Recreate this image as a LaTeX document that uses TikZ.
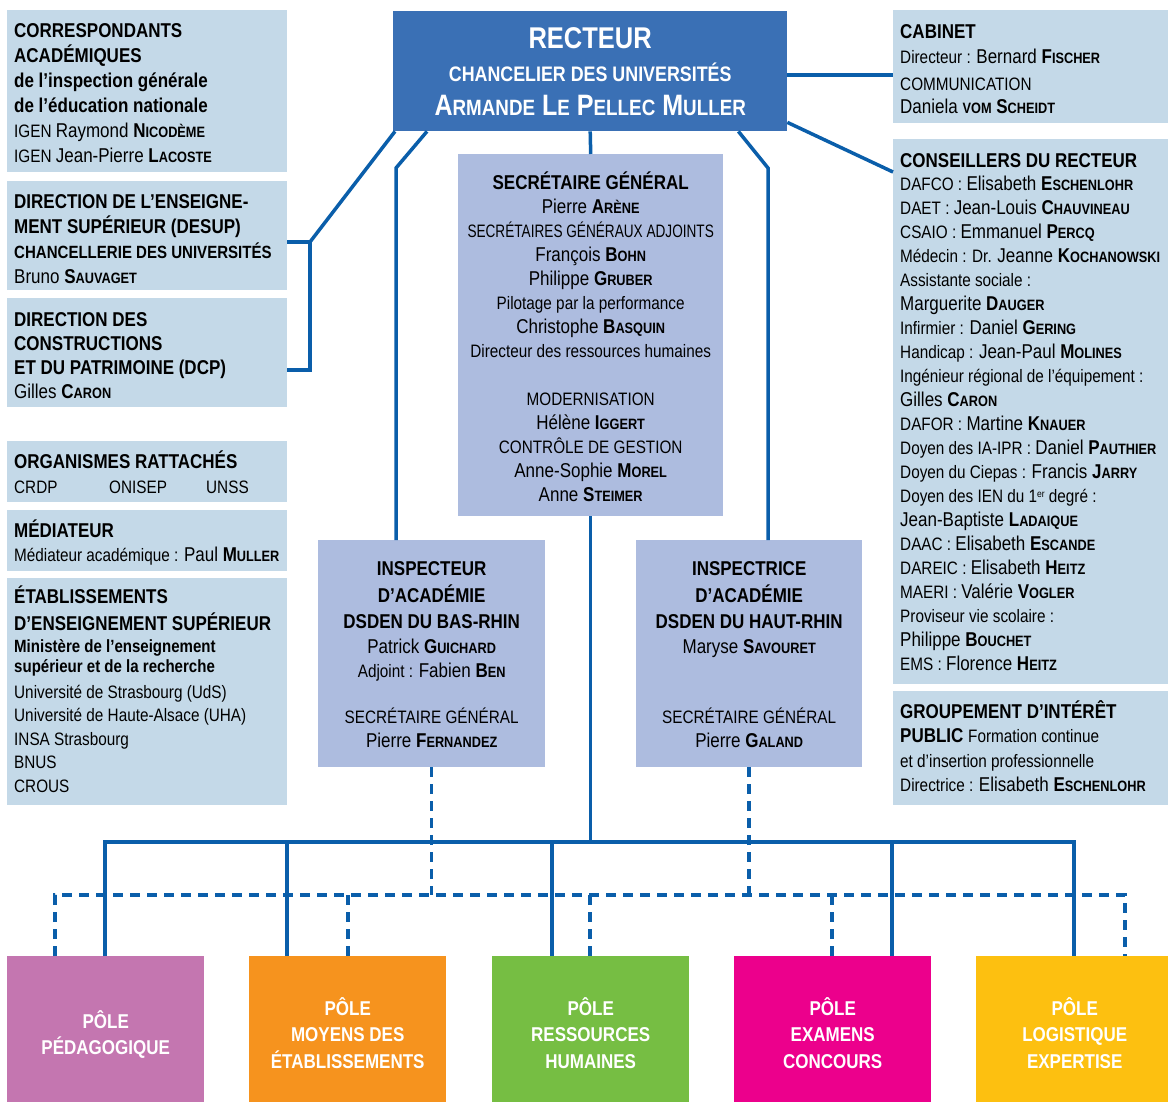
\documentclass[tikz,border=0pt]{standalone}
\usepackage{fontspec}
\setmainfont{Liberation Sans}[FakeStretch=0.85]
\usepackage{graphicx}
\definecolor{paleblue}{RGB}{196,217,232}
\definecolor{lavender}{RGB}{173,188,223}
\definecolor{recblue}{RGB}{58,112,181}
\definecolor{linkblue}{RGB}{10,94,170}
\definecolor{polemauve}{RGB}{196,118,176}
\definecolor{poleorange}{RGB}{246,147,30}
\definecolor{polegreen}{RGB}{118,190,67}
\definecolor{polepink}{RGB}{236,0,140}
\definecolor{poleyellow}{RGB}{253,192,16}
\makeatletter
\newcommand\scs[1]{{\fontsize{\fpeval{0.75*\f@size}}{\f@baselineskip}\selectfont\MakeUppercase{#1}}}
\def\nm@split#1#2\relax{{\bfseries#1\scs{#2}}}
\newcommand\nm[1]{\nm@split#1\relax}
\makeatother
\newcommand\lb[1]{{\fontsize{18}{24}\selectfont#1}}
\newcommand\lbb[1]{{\bfseries\fontsize{17.7}{24}\selectfont#1}}
\newcommand\flushl{\raggedright\rightskip=0pt plus 1fil minus 60pt\relax}
\newcommand\panel[6]{\parbox[t][#2pt][t]{#1pt}{#5\baselineskip=#4pt\lineskiplimit=-50pt\rule{0pt}{#3pt}\ignorespaces#6}}
\begin{document}
\begin{tikzpicture}[x=1pt, y=-1pt,
  lbox/.style={fill=paleblue, anchor=north west, inner xsep=7pt, inner ysep=0pt, font=\fontsize{20}{24}\selectfont},
  sgbox/.style={lbox, fill=lavender},
  rbox/.style={fill=recblue, anchor=north west, inner sep=0pt, text=white, font=\bfseries},
  pole/.style={anchor=north west, inner sep=0pt, text=white, font=\bfseries\fontsize{20}{26}\selectfont},
  link/.style={draw=linkblue, line width=3.5pt},
  dlink/.style={link, dash pattern=on 10pt off 7pt}]
\useasboundingbox (0,0) rectangle (1168,1102);

\node[lbox] (corr) at (7,10) {\panel{266}{162}{27}{25}{\flushl}{%
  \textbf{CORRESPONDANTS}\\ \textbf{ACADÉMIQUES}\\
  \textbf{de l’inspection générale}\\ \textbf{de l’éducation nationale}\\
  \lb{IGEN }Raymond \nm{Nicodème}\\ \lb{IGEN }Jean-Pierre \nm{Lacoste}}};
\node[lbox] (desup) at (7,181) {\panel{266}{109}{27}{25}{\flushl}{%
  \textbf{DIRECTION DE L’ENSEIGNE-}\\ \textbf{MENT SUPÉRIEUR (DESUP)}\\
  \lbb{CHANCELLERIE DES UNIVERSITÉS}\\ Bruno \nm{Sauvaget}}};
\node[lbox] (dcp) at (7,298) {\panel{266}{109}{28}{24}{\flushl}{%
  \textbf{DIRECTION DES}\\ \textbf{CONSTRUCTIONS}\\
  \textbf{ET DU PATRIMOINE (DCP)}\\ Gilles \nm{Caron}}};
\node[lbox] (orgs) at (7,441) {\panel{266}{61}{27}{25}{\flushl}{%
  \textbf{ORGANISMES RATTACHÉS}\\
  \lb{\makebox[95pt][l]{CRDP}\makebox[97pt][l]{ONISEP}UNSS}}};
\node[lbox] (med) at (7,510) {\panel{266}{61}{27}{24}{\flushl}{%
  \textbf{MÉDIATEUR}\\ \lb{Médiateur académique : }Paul \nm{Muller}}};
\node[lbox] (etab) at (7,578) {\panel{266}{227}{25}{23.5}{\flushl}{%
  \textbf{ÉTABLISSEMENTS}\\[3.5pt] \textbf{D’ENSEIGNEMENT SUPÉRIEUR}\\[-1.5pt]
  \lbb{Ministère de l’enseignement}\\[-3.5pt] \lbb{supérieur et de la recherche}\\[2.5pt]
  \lb{Université de Strasbourg (UdS)}\\ \lb{Université de Haute-Alsace (UHA)}\\
  \lb{INSA Strasbourg}\\ \lb{BNUS}\\ \lb{CROUS}}};

\node[rbox] (rect) at (393,11) {\panel{394}{120}{37}{33}{\centering}{%
  {\fontsize{30}{33}\selectfont RECTEUR}\\
  {\fontsize{21}{33}\selectfont CHANCELIER DES UNIVERSITÉS}\\[1pt]
  {\fontsize{29.5}{33}\selectfont\nm{Armande} \nm{Le} \nm{Pellec} \nm{Muller}}}};

\node[sgbox] (sg) at (458,154) {\panel{251}{362}{35}{24}{\centering}{%
  \textbf{SECRÉTAIRE GÉNÉRAL}\\ Pierre \nm{Arène}\\
  \lb{\scalebox{0.89}[1]{SECRÉTAIRES GÉNÉRAUX ADJOINTS}}\\
  François \nm{Bohn}\\ Philippe \nm{Gruber}\\
  \lb{Pilotage par la performance}\\ Christophe \nm{Basquin}\\
  \lb{Directeur des ressources humaines}\\[24pt]
  \lb{MODERNISATION}\\ Hélène \nm{Iggert}\\
  \lb{CONTRÔLE DE GESTION}\\ Anne-Sophie \nm{Morel}\\ Anne \nm{Steimer}}};

\node[sgbox] (ia67) at (318,540) {\panel{213}{227}{35}{24.5}{\centering}{%
  \textbf{INSPECTEUR}\\[2.5pt] \textbf{D’ACADÉMIE}\\[2pt] \textbf{DSDEN DU BAS-RHIN}\\
  Patrick \nm{Guichard}\\ \lb{Adjoint : }Fabien \nm{Ben}\\[21pt]
  \lb{SECRÉTAIRE GÉNÉRAL}\\ Pierre \nm{Fernandez}}};
\node[sgbox] (ia68) at (636,540) {\panel{212}{227}{35}{24.5}{\centering}{%
  \textbf{INSPECTRICE}\\[2.5pt] \textbf{D’ACADÉMIE}\\[2pt] \textbf{DSDEN DU HAUT-RHIN}\\
  Maryse \nm{Savouret}\\[45.5pt]
  \lb{SECRÉTAIRE GÉNÉRAL}\\ Pierre \nm{Galand}}};

\node[lbox] (cab) at (893,10) {\panel{261}{113}{28}{25}{\flushl}{%
  \textbf{CABINET}\\ \lb{Directeur : }Bernard \nm{Fischer}\\[2pt]
  \lb{COMMUNICATION}\\[-2pt] Daniela {\bfseries\scs{vom}} \nm{Scheidt}}};
\node[lbox] (cons) at (893,139) {\panel{261}{545}{28}{24}{\flushl}{%
  \textbf{CONSEILLERS DU RECTEUR}\\[-1pt]
  \lb{DAFCO : }Elisabeth \nm{Eschenlohr}\\
  \lb{DAET : }Jean-Louis \nm{Chauvineau}\\
  \lb{CSAIO : }Emmanuel \nm{Percq}\\
  \lb{Médecin : Dr. }Jeanne \nm{Kochanowski}\\
  \lb{Assistante sociale :}\\
  Marguerite \nm{Dauger}\\
  \lb{Infirmier : }Daniel \nm{Gering}\\
  \lb{Handicap : }Jean-Paul \nm{Molines}\\
  \lb{Ingénieur régional de l’équipement :}\\
  Gilles \nm{Caron}\\
  \lb{DAFOR : }Martine \nm{Knauer}\\
  \lb{Doyen des IA-IPR : }Daniel \nm{Pauthier}\\
  \lb{Doyen du Ciepas : }Francis \nm{Jarry}\\
  \lb{Doyen des IEN du 1{\fontsize{10}{12}\selectfont\raisebox{5pt}{er}} degré :}\\
  Jean-Baptiste \nm{Ladaique}\\
  \lb{DAAC : }Elisabeth \nm{Escande}\\
  \lb{DAREIC : }Elisabeth \nm{Heitz}\\
  \lb{MAERI : }Valérie \nm{Vogler}\\
  \lb{Proviseur vie scolaire :}\\
  Philippe \nm{Bouchet}\\
  \lb{EMS : }Florence \nm{Heitz}}};
\node[lbox] (gip) at (893,691) {\panel{261}{114}{27}{24.5}{\flushl}{%
  \textbf{GROUPEMENT D’INTÉRÊT}\\ \textbf{PUBLIC} \lb{Formation continue}\\
  \lb{et d’insertion professionnelle}\\ \lb{Directrice : }Elisabeth \nm{Eschenlohr}}};

\foreach \i/\x/\c/\h/\t in {1/7/polemauve/72/{PÔLE\\PÉDAGOGIQUE},
    2/249/poleorange/59/{PÔLE\\MOYENS DES\\ÉTABLISSEMENTS},
    3/492/polegreen/59/{PÔLE\\RESSOURCES\\HUMAINES},
    4/734/polepink/59/{PÔLE\\EXAMENS\\CONCOURS},
    5/976/poleyellow/59/{PÔLE\\LOGISTIQUE\\EXPERTISE}}
  \node[pole, fill=\c] (p\i) at (\x,956) {\panel{197}{146}{\h}{26.5}{\centering}{\t}};

\coordinate (brk) at (310,242);
\coordinate (brk2) at (310,370);
\coordinate (kl) at (396,168);
\coordinate (kr) at (768,168);
\coordinate (cabin) at (893,75);
\coordinate (consin) at (893,172);
\foreach \i/\x in {1/105, 2/287, 3/552, 4/892, 5/1074}
  \coordinate (s\i) at (\x,842);
\foreach \i/\x in {1/55, 2/348, 3/590, 4/832, 5/1125}
  \coordinate (d\i) at (\x,895);

\draw[link] (desup.east |- brk) -- (brk) -- (brk2) -- (dcp.east |- brk2);
\draw[link] (brk) -- ([xshift=2pt]rect.south west);
\draw[link] ([xshift=34pt]rect.south west) -- (kl) -- (kl |- ia67.north);
\draw[link] ([xshift=-49pt]rect.south east) -- (kr) -- (kr |- ia68.north);
\draw[link] (rect.south) -- (sg.north);
\draw[link] (rect.east |- cabin) -- (cabin);
\draw[link] ([yshift=9pt]rect.south east) -- (consin);
\draw[link] (sg.south) -- (sg.south |- s1);
\draw[link] (s1 |- p1.north) -- (s1) -- (s5) -- (s5 |- p5.north);
\foreach \i in {2,3,4}
  \draw[link] (s\i) -- (s\i |- p\i.north);
\draw[dlink] (ia67.south) -- (ia67.south |- d1);
\draw[dlink] (ia68.south) -- (ia68.south |- d1);
\draw[dlink] (d1 |- p1.north) -- (d1) -- (d5) -- (d5 |- p5.north);
\foreach \i in {2,3,4}
  \draw[dlink] (d\i) -- (d\i |- p\i.north);
\end{tikzpicture}
\end{document}
